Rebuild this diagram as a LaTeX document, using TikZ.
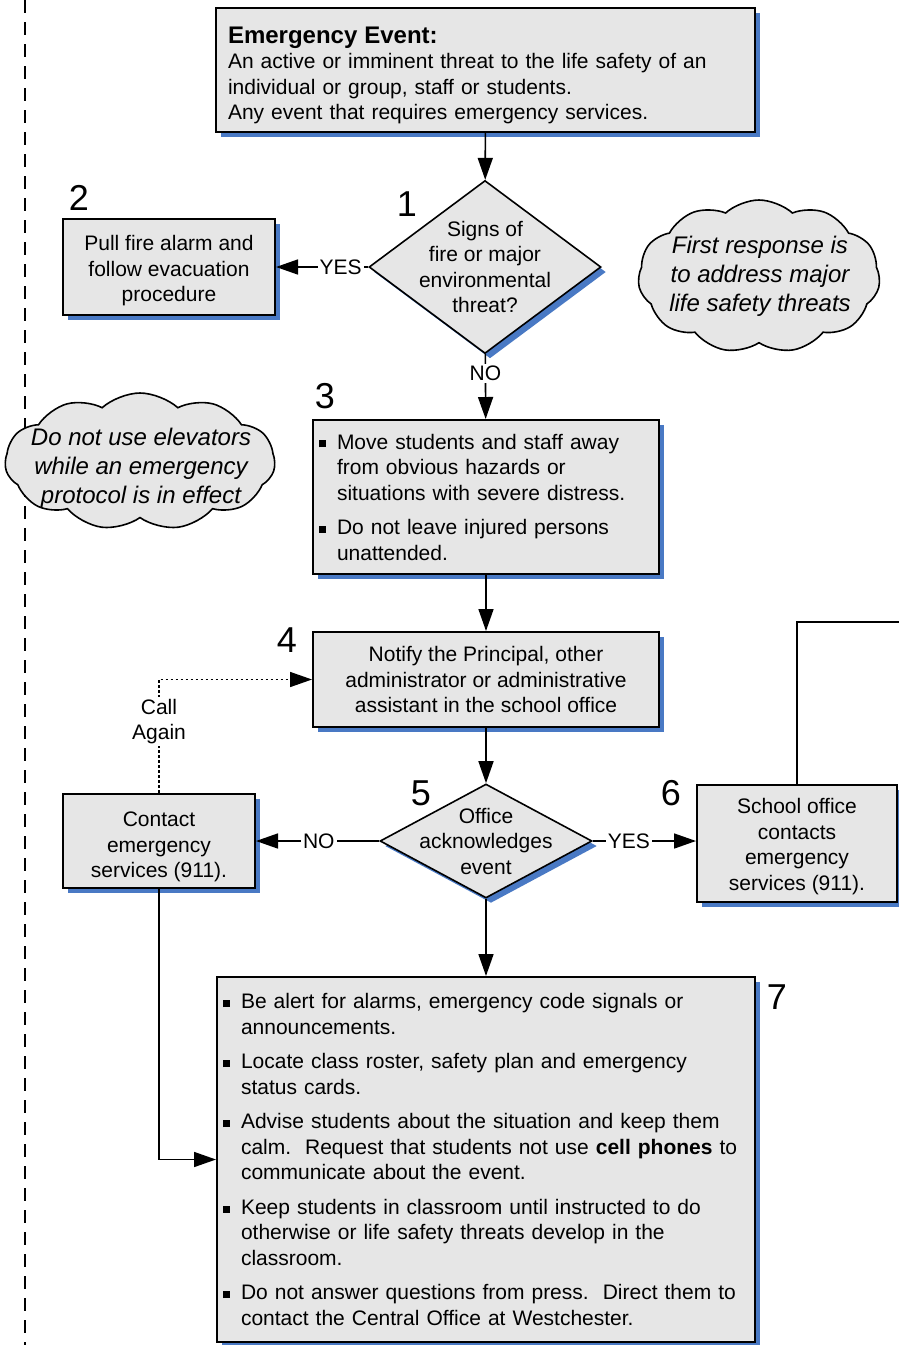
\documentclass[tikz,border=0pt]{standalone}
\usepackage{fontspec}
\setmainfont{Liberation Sans}
\usetikzlibrary{shapes.geometric,shapes.symbols,arrows.meta,shadows}
\definecolor{boxgray}{RGB}{230,230,230}
\definecolor{shadowblue}{RGB}{73,121,196}
\newcommand{\bulletline}{\noindent\hangindent=9pt\hangafter=1\makebox[9pt][l]{\rule[0.15ex]{3.5pt}{3.5pt}}}
\newcommand{\stepitem}{\par\vspace{4.5pt}\bulletline}

\begin{document}
\begin{tikzpicture}[x=0.5pt,y=-0.5pt,
  blueshadow/.style={drop shadow={shadow xshift=2.5pt,shadow yshift=-2.5pt,fill=shadowblue,opacity=1}},
  box/.style={draw,line width=1pt,fill=boxgray,inner sep=3pt,blueshadow,
    font=\fontsize{10.5}{12.75}\selectfont,align=center},
  decision/.style={diamond,draw,line width=0.8pt,fill=boxgray,inner sep=0pt,blueshadow},
  asktext/.style={font=\fontsize{10.5}{12.75}\selectfont,align=center},
  note/.style={cloud,cloud puffs=11,cloud puff arc=85,cloud ignores aspect,draw,line width=0.8pt,
    fill=boxgray,inner sep=0pt},
  notetext/.style={font=\fontsize{12}{14.5}\selectfont\itshape,align=center},
  num/.style={font=\fontsize{18}{18}\selectfont},
  flow/.style={line width=0.8pt,-{Triangle[length=11pt,width=7.5pt]}},
  answer/.style={fill=white,inner sep=1pt,font=\fontsize{10.5}{12.75}\selectfont,align=center}]
\useasboundingbox (0,0) rectangle (899,1345);

% page margin
\coordinate (margintop) at (25,0);
\coordinate (marginbot) at (25,1345);
\draw[line width=1pt,dash pattern=on 6.5pt off 4.5pt] (margintop) -- (marginbot);

\node[box,minimum width=269.5pt,minimum height=62pt,inner xsep=6pt,text width=257.5pt,align=left]
  (event) at (485.5,70) {\rule{0pt}{13.7pt}{\fontsize{12}{12.75}\selectfont\textbf{Emergency Event:}}\\
  An active or imminent threat to the life safety of an\\
  individual or group, staff or students.\\
  Any event that requires emergency services.};

\node[decision,minimum width=116pt,minimum height=86.5pt] (ask1) at (485,267) {};
\node[asktext] (ask1text) at (485,267) {Signs of\\fire or major\\environmental\\threat?};

\node[box,minimum width=106pt,minimum height=48pt] (evacuate) at (169,267)
  {\rule{0pt}{11.5pt}Pull fire alarm and\\follow evacuation\\procedure};

\node[note,minimum width=121pt,minimum height=76.5pt] (firstcloud) at (759,276.5) {};
\node[notetext] (firsttext) at (760,276) {First response is\\to address major\\life safety threats};

\node[note,minimum width=135pt,minimum height=68.5pt] (liftcloud) at (140,461.5) {};
\node[notetext] (lifttext) at (141,468) {Do not use elevators\\while an emergency\\protocol is in effect};

\node[box,minimum width=173pt,minimum height=77pt,text width=167pt,align=left] (move) at (486,497)
  {\bulletline Move students and staff away\newline from obvious hazards or\newline situations with severe distress.
  \stepitem Do not leave injured persons\newline unattended.\par};

\node[box,minimum width=173pt,minimum height=47.5pt] (notify) at (486,679.5)
  {Notify the Principal, other\\administrator or administrative\\assistant in the school office};

\node[decision,minimum width=106pt,minimum height=57pt] (ask2) at (486,841) {};
\node[asktext] (ask2text) at (486,841) {Office\\acknowledges\\event};

\node[box,minimum width=96pt,minimum height=47pt] (contact) at (159,841)
  {\rule{0pt}{13.5pt}Contact\\emergency\\services (911).};

\node[box,minimum width=100pt,minimum height=58.5pt] (school) at (797,843.5)
  {\rule{0pt}{10.5pt}School office\\contacts\\emergency\\services (911).};
\coordinate (offpage) at (899,622);

\node[box,minimum width=269pt,minimum height=182.5pt,text width=263pt,align=left] (actions) at (486,1159.5)
  {\bulletline Be alert for alarms, emergency code signals or\newline announcements.
  \stepitem Locate class roster, safety plan and emergency\newline status cards.
  \stepitem Advise students about the situation and keep them\newline calm.\ \ Request that students not use \textbf{cell phones} to\newline communicate about the event.
  \stepitem Keep students in classroom until instructed to do\newline otherwise or life safety threats develop in the\newline classroom.
  \stepitem Do not answer questions from press.\ \ Direct them to\newline contact the Central Office at Westchester.\par};

\node[num] (n1) at (407,204) {1};
\node[num] (n2) at (79,198) {2};
\node[num] (n3) at (325,396) {3};
\node[num] (n4) at (287,640) {4};
\node[num] (n5) at (421,793) {5};
\node[num] (n6) at (671,793) {6};
\node[num] (n7) at (777,997) {7};

\draw[flow] (event) -- (ask1);
\draw[flow] (ask1) -- node[answer,pos=0.3] {YES} (evacuate);
\draw[flow] (ask1) -- node[answer,pos=0.3] {NO} (move);
\draw[flow] (move) -- (notify);
\draw[flow] (notify) -- (ask2);
\draw[flow] (ask2.west) -- node[answer,pos=0.49] {NO} (contact.east);
\draw[flow] (ask2.east) -- node[answer,pos=0.35] {YES} (ask2.east -| school.west);
\draw[flow] (ask2) -- (actions);
\draw[flow,dash pattern=on 1.2pt off 1.3pt] (contact.north)
  -- node[answer,pos=0.63] {Call\\Again} (contact.north |- notify.west) -- (notify.west);
\draw[flow] (contact.south) |- (actions.west);
\draw[line width=0.8pt] (school.north) |- (offpage);
\end{tikzpicture}
\end{document}
